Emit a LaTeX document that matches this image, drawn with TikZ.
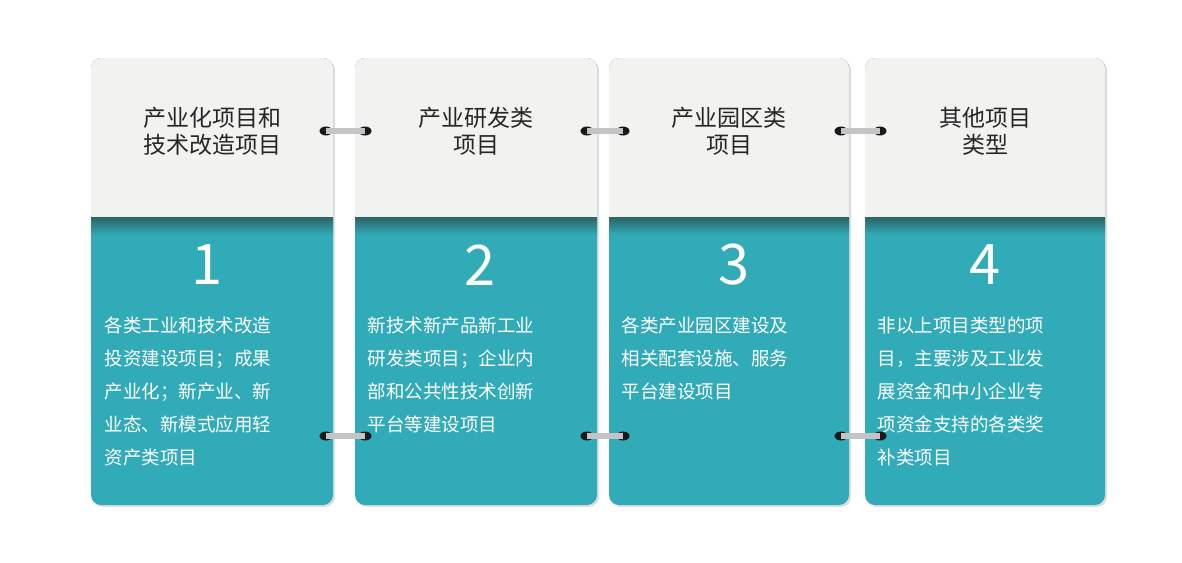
\documentclass[tikz,border=0pt]{standalone}
\usepackage{fontspec}
\setmainfont{Noto Sans CJK SC}
\usetikzlibrary{shadows}
\definecolor{headgray}{HTML}{F2F2F0}
\definecolor{cardteal}{HTML}{31ABB8}
\definecolor{banddark}{HTML}{2B6464}
\definecolor{ringbar}{HTML}{C4C4C4}
\tikzset{
  card/.style={fill=cardteal, rounded corners=10pt, drop shadow={opacity=0.25, shadow xshift=2pt, shadow yshift=-2pt}},
  headbox/.style={fill=headgray, rounded corners=10pt},
  headtext/.style={align=center, font=\fontsize{23}{27}\selectfont, text=black!85},
  numtext/.style={font=\fontsize{56}{60}\selectfont, text=white},
  bodytext/.style={align=left, anchor=north west, font=\fontsize{18.5}{33}\selectfont, text=white},
  ringend/.style={fill=black!90, ellipse, minimum width=13pt, minimum height=9pt, inner sep=0pt},
  ringbarline/.style={draw=ringbar, line width=6pt}
}
\usetikzlibrary{shapes.geometric}
\begin{document}
\begin{tikzpicture}[x=1pt, y=-1pt]
\useasboundingbox (0,0) rectangle (1182,562);
% cards
\foreach \name/\xl/\xr in {one/91/333, two/355/597, three/609/849, four/865/1105}{
  \fill[card] (\xl,58) rectangle (\xr,505);
  \fill[headbox] (\xl,58) rectangle (\xr,230);
  \fill[headgray] (\xl,200) rectangle (\xr,217);
  \shade[top color=banddark, bottom color=cardteal] (\xl,217) rectangle (\xr,235);
  \coordinate (\name) at ({(\xl+\xr)/2},0);
}
% headers
\node[headtext] (headone) at (212,131) {产业化项目和\\技术改造项目};
\node[headtext] (headtwo) at (476,131) {产业研发类\\项目};
\node[headtext] (headthree) at (729,131) {产业园区类\\项目};
\node[headtext] (headfour) at (985,131) {其他项目\\类型};
% numbers
\node[numtext] (numone) at (207,265) {1};
\node[numtext] (numtwo) at (480,265) {2};
\node[numtext] (numthree) at (734,265) {3};
\node[numtext] (numfour) at (985,265) {4};
% texts
\node[bodytext] (bodyone) at (101,313) {各类工业和技术改造\\投资建设项目；成果\\产业化；新产业、新\\业态、新模式应用轻\\资产类项目};
\node[bodytext] (bodytwo) at (364,313) {新技术新产品新工业\\研发类项目；企业内\\部和公共性技术创新\\平台等建设项目};
\node[bodytext] (bodythree) at (618,313) {各类产业园区建设及\\相关配套设施、服务\\平台建设项目};
\node[bodytext] (bodyfour) at (874,313) {非以上项目类型的项\\目，主要涉及工业发\\展资金和中小企业专\\项资金支持的各类奖\\补类项目};
% rings
\foreach \xa/\xb/\y/\n in {326/365/131/a, 587/623/131/b, 841/880/131/c, 326/365/436/d, 587/623/436/e, 841/880/436/f}{
  \node[ringend] (ringl\n) at (\xa,\y) {};
  \node[ringend] (ringr\n) at (\xb,\y) {};
  \draw[ringbarline] (ringl\n.center) -- (ringr\n.center);
}
\end{tikzpicture}
\end{document}
